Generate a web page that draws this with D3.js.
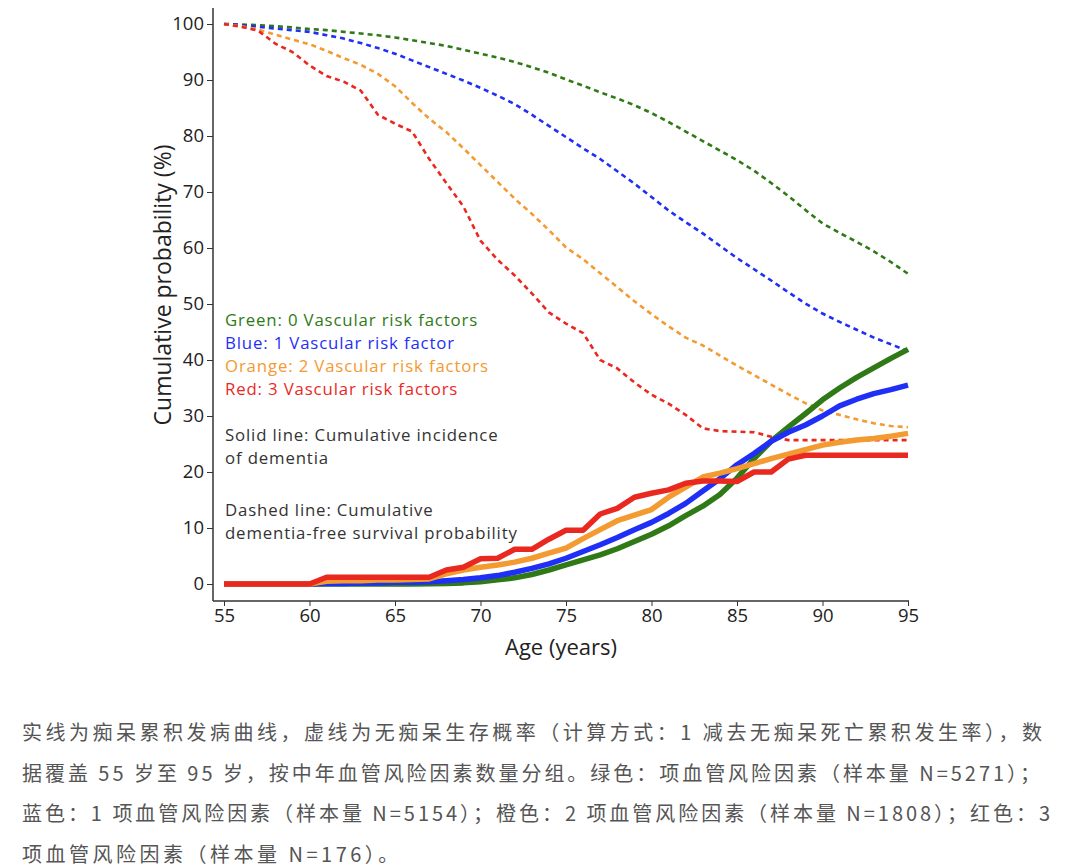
<!DOCTYPE html>
<html>
<head>
<meta charset="utf-8">
<script src="https://cdn.jsdelivr.net/npm/d3@7"></script>
<style>
    body { margin: 0; background: #fff; }
    svg { display: block; }
    .tick text { font-family: 'Open Sans', sans-serif; font-size: 18.5px; fill: #222; }
    .tick line { stroke: #333; }
    .note { font-family: 'Open Sans', sans-serif; font-size: 16.8px; letter-spacing: 0.85px; }
    .caption { font-family: 'Noto Sans CJK SC', sans-serif; font-size: 20px; fill: #555; }
</style>
</head>
<body>
<svg id="chart" width="1080" height="867"></svg>
<script>
'use strict';

var ages = [55, 56, 57, 58, 59, 60, 61, 62, 63, 64, 65, 66, 67, 68, 69, 70, 71, 72, 73, 74, 75,
    76, 77, 78, 79, 80, 81, 82, 83, 84, 85, 86, 87, 88, 89, 90, 91, 92, 93, 94, 95];

// dementia-free survival (dashed)
var survGreen = [100, 99.9, 99.8, 99.6, 99.4, 99.1, 98.9, 98.6, 98.3, 98.0, 97.6, 97.1, 96.6, 96.1,
    95.4, 94.7, 94.0, 93.2, 92.3, 91.3, 90.1, 89.0, 87.8, 86.7, 85.5, 84.1, 82.5, 80.8, 79.1, 77.4,
    75.7, 73.8, 71.6, 69.3, 66.8, 64.4, 62.7, 61.1, 59.4, 57.5, 55.4];
var survBlue = [100, 99.8, 99.5, 99.2, 98.9, 98.6, 98.0, 97.4, 96.6, 95.7, 94.7, 93.5, 92.3, 91.1,
    89.9, 88.6, 87.2, 85.7, 83.8, 81.8, 79.8, 77.8, 75.9, 73.7, 71.5, 69.1, 66.7, 64.6, 62.6, 60.4,
    58.2, 56.2, 54.2, 52.1, 50.1, 48.3, 46.8, 45.4, 44.0, 42.8, 41.6];
var survOrange = [100, 99.6, 99.0, 98.1, 97.2, 96.4, 95.2, 93.9, 92.7, 91.1, 88.9, 85.9, 83.1, 80.7,
    77.8, 74.8, 71.8, 68.8, 66.1, 63.2, 60.1, 58.0, 55.5, 53.0, 50.5, 48.2, 46.0, 44.0, 42.6, 40.8,
    39.0, 37.3, 35.6, 33.9, 32.3, 31.0, 30.2, 29.4, 28.7, 28.2, 28.0];
var survRed = [100, 99.5, 98.8, 96.5, 95.0, 92.6, 90.7, 89.7, 88.1, 83.8, 82.2, 80.8, 75.9, 71.6,
    67.4, 61.3, 57.9, 55.1, 51.9, 48.5, 46.5, 44.8, 40.0, 38.5, 36.0, 33.8, 32.2, 30.2, 27.8, 27.3,
    27.2, 27.1, 26.3, 25.7, 25.7, 25.7, 25.7, 25.7, 25.7, 25.7, 25.7];

// cumulative incidence of dementia (solid)
var incGreen = [0, 0, 0, 0, 0, 0, 0, 0, 0, 0, 0, 0, 0.05, 0.1, 0.2, 0.4, 0.75, 1.1, 1.7, 2.5, 3.4,
    4.3, 5.2, 6.3, 7.6, 8.9, 10.4, 12.2, 13.9, 16.0, 18.9, 22.4, 25.5, 28.0, 30.4, 32.9, 35.0, 36.9,
    38.6, 40.3, 41.9];
var incBlue = [0, 0, 0, 0, 0, 0, 0.1, 0.1, 0.2, 0.2, 0.3, 0.3, 0.4, 0.6, 0.8, 1.1, 1.5, 2.1, 2.8,
    3.6, 4.6, 5.8, 7.0, 8.3, 9.7, 11.0, 12.6, 14.4, 16.6, 18.8, 21.3, 23.3, 25.5, 27.1, 28.4, 30.0,
    31.8, 33.0, 34.0, 34.7, 35.5];
var incOrange = [0, 0, 0, 0, 0, 0, 0.5, 0.6, 0.6, 0.7, 0.7, 0.8, 0.9, 1.8, 2.5, 3.0, 3.4, 3.9, 4.6,
    5.5, 6.4, 8.1, 9.7, 11.3, 12.3, 13.3, 15.5, 17.3, 19.1, 19.8, 20.6, 21.5, 22.4, 23.2, 24.0, 24.8,
    25.3, 25.7, 26.0, 26.4, 26.9];
var incRed = [0, 0, 0, 0, 0, 0, 1.2, 1.2, 1.2, 1.2, 1.2, 1.2, 1.2, 2.5, 3.0, 4.5, 4.6, 6.2, 6.2,
    8.0, 9.6, 9.6, 12.5, 13.5, 15.5, 16.2, 16.8, 18.0, 18.4, 18.4, 18.3, 20.0, 20.0, 22.3, 23.0, 23.0,
    23.0, 23.0, 23.0, 23.0, 23.0];

var xTicks = [55, 60, 65, 70, 75, 80, 85, 90, 95];
var yTicks = [0, 10, 20, 30, 40, 50, 60, 70, 80, 90, 100];

var legendLabels = ['Green: 0 Vascular risk factors', 'Blue: 1 Vascular risk factor',
    'Orange: 2 Vascular risk factors', 'Red: 3 Vascular risk factors'];
var noteLines = ['Solid line: Cumulative incidence', 'of dementia',
    'Dashed line: Cumulative', 'dementia-free survival probability'];
var captionLines = [
    '实线为痴呆累积发病曲线，虚线为无痴呆生存概率（计算方式：1 减去无痴呆死亡累积发生率），数',
    '据覆盖 55 岁至 95 岁，按中年血管风险因素数量分组。绿色：项血管风险因素（样本量 N=5271）；',
    '蓝色：1 项血管风险因素（样本量 N=5154）；橙色：2 项血管风险因素（样本量 N=1808）；红色：3',
    '项血管风险因素（样本量 N=176）。'
];

var COLORS = ['#2f7a17', '#1f2ff5', '#f39a30', '#e9291f'];

function chart() {
    var svg = d3.select('#chart');

    var x = d3.scaleLinear().domain([55, 95]).range([224, 908]);
    var y = d3.scaleLinear().domain([0, 100]).range([584, 24]);

    var AXIS_X = 213;
    var AXIS_Y = 601;

    // spines
    svg.append('line').attr('x1', AXIS_X).attr('x2', AXIS_X).attr('y1', 8).attr('y2', AXIS_Y)
        .attr('stroke', '#333').attr('stroke-width', 1.5);
    svg.append('line').attr('x1', AXIS_X).attr('x2', x(95) + 1).attr('y1', AXIS_Y).attr('y2', AXIS_Y)
        .attr('stroke', '#333').attr('stroke-width', 1.5);

    var yAxis = svg.append('g').attr('transform', 'translate(' + AXIS_X + ',0)')
        .call(d3.axisLeft(y).tickValues(yTicks).tickSize(6).tickPadding(3));
    yAxis.select('.domain').remove();

    var xAxis = svg.append('g').attr('transform', 'translate(0,' + AXIS_Y + ')')
        .call(d3.axisBottom(x).tickValues(xTicks).tickSize(5).tickPadding(3));
    xAxis.select('.domain').remove();

    svg.append('text').attr('class', 'note')
        .attr('transform', 'translate(171,285) rotate(-90)')
        .attr('text-anchor', 'middle').style('font-size', '23px').style('letter-spacing', '0')
        .attr('fill', '#222')
        .text('Cumulative probability (%)');

    svg.append('text').attr('class', 'note')
        .attr('x', 561).attr('y', 655)
        .attr('text-anchor', 'middle').style('font-size', '22px').style('letter-spacing', '0')
        .attr('fill', '#222')
        .text('Age (years)');

    var line = d3.line()
        .x(function (d) { return x(d[0]); })
        .y(function (d) { return y(d[1]); });

    function pairs(values) {
        return ages.map(function (a, i) { return [a, values[i]]; });
    }

    // dashed: survival
    [survGreen, survBlue, survOrange, survRed].forEach(function (s, i) {
        svg.append('path').attr('d', line(pairs(s)))
            .attr('fill', 'none').attr('stroke', COLORS[i]).attr('stroke-width', 2.6)
            .attr('stroke-dasharray', '5,4');
    });

    // solid: incidence
    [incGreen, incBlue, incOrange, incRed].forEach(function (s, i) {
        svg.append('path').attr('d', line(pairs(s)))
            .attr('fill', 'none').attr('stroke', COLORS[i]).attr('stroke-width', 5.5)
            .attr('stroke-linejoin', 'round');
    });

    // legend
    svg.selectAll('.legend').data(legendLabels).enter().append('text')
        .attr('class', 'note legend')
        .attr('x', 225).attr('y', function (d, i) { return 326 + i * 23; })
        .attr('fill', function (d, i) { return COLORS[i]; })
        .text(function (d) { return d; });

    var noteY = [441, 464, 516, 539];
    svg.selectAll('.expl').data(noteLines).enter().append('text')
        .attr('class', 'note expl')
        .attr('x', 225).attr('y', function (d, i) { return noteY[i]; })
        .attr('fill', '#333')
        .text(function (d) { return d; });

    // caption under the chart
    var capWidths = [1020, 1018, 1028, null];
    svg.selectAll('.caption').data(captionLines).enter().append('text')
        .attr('class', 'caption')
        .attr('x', 22).attr('y', function (d, i) { return 740 + i * 40.5; })
        .each(function (d, i) {
            if (capWidths[i]) {
                d3.select(this).attr('textLength', capWidths[i]).attr('lengthAdjust', 'spacing');
            } else {
                d3.select(this).style('letter-spacing', '3.5px');
            }
        })
        .text(function (d) { return d; });
}

chart();
</script>
</body>
</html>
